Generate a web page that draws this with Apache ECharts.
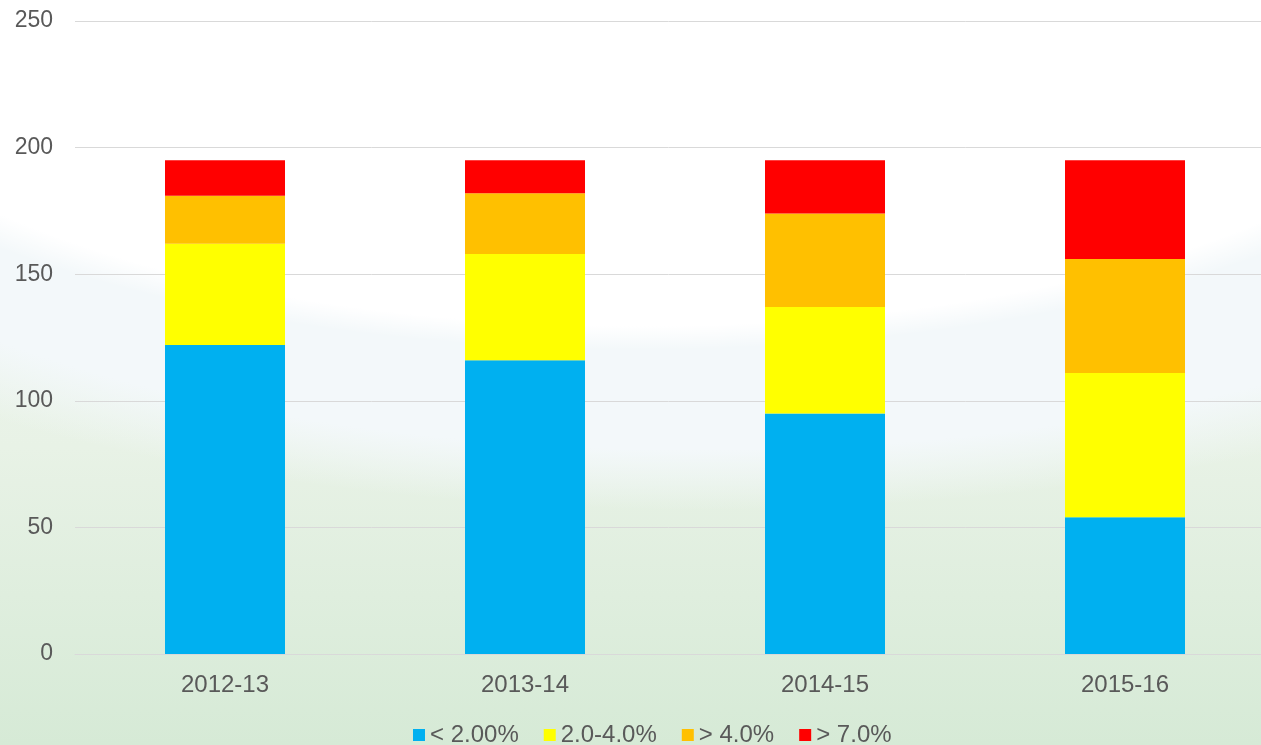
<!DOCTYPE html>
<html>
<head>
<meta charset="utf-8">
<title>Stacked bars</title>
<script src="https://cdn.jsdelivr.net/npm/echarts@6/dist/echarts.min.js"></script>
<style>
  html, body { margin: 0; padding: 0; }
  body {
    width: 1261px; height: 745px; overflow: hidden;
    background:
      radial-gradient(ellipse 900px 340px at 640px 10px, #ffffff 0%, #ffffff 93%, rgba(255,255,255,0) 100%),
      radial-gradient(ellipse 1150px 430px at 700px 80px, rgba(243,248,250,1) 0%, rgba(243,248,250,1) 86%, rgba(243,248,250,0) 100%),
      linear-gradient(180deg, #f4f8f3 0%, #e8f2e6 60%, #d6ead6 100%);
  }
  #chart { width: 1261px; height: 745px; }
</style>
</head>
<body>
<div id="chart"></div>
<script>
// years on the x axis
var categories = ['2012-13', '2013-14', '2014-15', '2015-16']
// series names (legend)
var seriesNames = ['< 2.00%', '2.0-4.0%', '> 4.0%', '> 7.0%']
var seriesColors = ['#00b0f0', '#ffff00', '#ffc000', '#ff0000']
// values
var lowValues = [122, 116, 95, 54]
var midValues = [40, 42, 42, 57]
var highValues = [19, 24, 37, 45]
var veryHighValues = [14, 13, 21, 39]

var chart = echarts.init(document.getElementById('chart'))
var allValues = [lowValues, midValues, highValues, veryHighValues]

chart.setOption({
  backgroundColor: 'transparent',
  animation: false,
  textStyle: { fontFamily: 'Liberation Sans, Arial, sans-serif' },
  grid: {
    left: 75,
    width: 1200, // plot runs past the right edge
    top: 21,
    bottom: 91,
    outerBoundsMode: 'none',
    containLabel: false
  },
  legend: {
    top: 718,
    left: 408,
    itemWidth: 12,
    itemHeight: 12,
    itemGap: 25,
    icon: 'rect',
    textStyle: { fontSize: 24, color: '#595959' },
    data: seriesNames
  },
  xAxis: {
    type: 'category',
    data: categories,
    axisLine: { lineStyle: { color: '#d9d9d9', width: 1 } },
    axisTick: { show: false },
    axisLabel: { fontSize: 24, color: '#595959', margin: 19 }
  },
  yAxis: {
    type: 'value',
    min: 0,
    max: 250,
    interval: 50,
    axisLine: { show: false },
    axisTick: { show: false },
    axisLabel: { fontSize: 23, color: '#595959', margin: 22, padding: [4, 0, 0, 0] },
    splitLine: { lineStyle: { color: '#d9d9d9', width: 1 } }
  },
  series: seriesNames.map(function (name, i) {
    return {
      name: name,
      type: 'bar',
      stack: 'total',
      barWidth: 120,
      itemStyle: { color: seriesColors[i] },
      data: allValues[i]
    }
  })
})
</script>
</body>
</html>
